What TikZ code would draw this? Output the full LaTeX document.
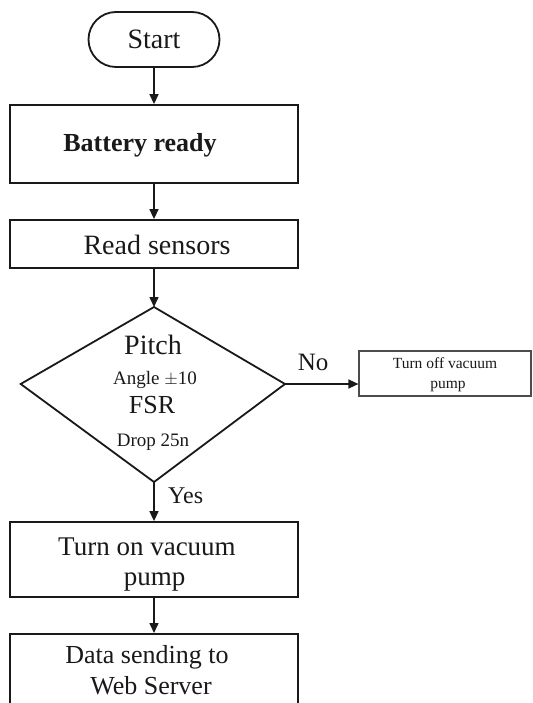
\documentclass[tikz,border=0pt]{standalone}
\usepackage{fontspec}
\setmainfont{Liberation Serif}
\usetikzlibrary{arrows.meta}
\begin{document}
\begin{tikzpicture}[x=1pt,y=-1pt,
  box/.style={draw=black!90, line width=1.8pt, minimum width=288pt, inner sep=0pt},
  arr/.style={draw=black!90, line width=1.5pt, -{Triangle[length=10pt,width=9pt]}},
  fs/.style={font=\fontsize{#1}{#1}\selectfont},
  txt/.style={anchor=base, inner sep=0pt, text=black!90}]
\useasboundingbox (0,0) rectangle (532,703);
\clip (0,0) rectangle (532,703);

% Start
\node[draw=black!90, line width=1.8pt, rounded corners=27.5pt, minimum width=131pt,
      minimum height=55pt, inner sep=0pt, fs=28, text=black!90] (start) at (154,39.5) {Start};

% Battery ready
\node[box, minimum height=78pt] (bat) at (154,144) {};
\node[txt, fs=26] (battxt) at (140,152) {\bfseries Battery ready};

% Read sensors
\node[box, minimum height=48pt] (read) at (154,244) {};
\node[txt, fs=28] (readtxt) at (157,254) {Read sensors};

% Decision diamond
\coordinate (dt) at (154,307);
\coordinate (dl) at (20.7,384);
\coordinate (dr) at (285,384);
\coordinate (db) at (154,482);
\draw[draw=black!90, line width=1.8pt, line join=miter] (dt) -- (dr) -- (db) -- (dl) -- cycle;
\node[txt, fs=28] (pitch) at (153,354) {Pitch};
\node[txt, fs=19] (angle) at (155,384) {Angle $\pm$10};
\node[txt, fs=26] (fsr) at (152,413) {FSR};
\node[txt, fs=19] (drop) at (153,446) {Drop 25n};

% No branch
\node[txt, anchor=base west, fs=25] (no) at (297.6,370) {No};
\node[draw=black!70, line width=1.2pt, minimum width=172pt, minimum height=45pt,
      inner sep=0pt] (off) at (445,373.5) {};
\node[txt, fs=15.5] (offtxt1) at (445,368) {Turn off vacuum};
\node[txt, fs=15.5] (offtxt2) at (448,388) {pump};

% Yes branch
\node[txt, anchor=base west, fs=24] (yes) at (168,503) {Yes};
\node[box, minimum height=75pt] (on) at (154,559.5) {};
\node[txt, fs=27] (ontxt1) at (147,555) {Turn on vacuum};
\node[txt, fs=27] (ontxt2) at (154.5,585) {pump};

% Data sending
\node[box, minimum height=120pt, anchor=north] (data) at (154,633) {};
\node[txt, fs=26] (datatxt1) at (147,663) {Data sending to};
\node[txt, fs=26] (datatxt2) at (151,694) {Web Server};

% Connectors
\draw[arr] (start.south) -- (bat.north);
\draw[arr] (bat.south) -- (read.north);
\draw[arr] (read.south) -- (dt);
\draw[arr] (dr) -- (dr -| off.west);
\draw[arr] (db) -- (on.north);
\draw[arr] (on.south) -- (data.north);
\end{tikzpicture}
\end{document}
